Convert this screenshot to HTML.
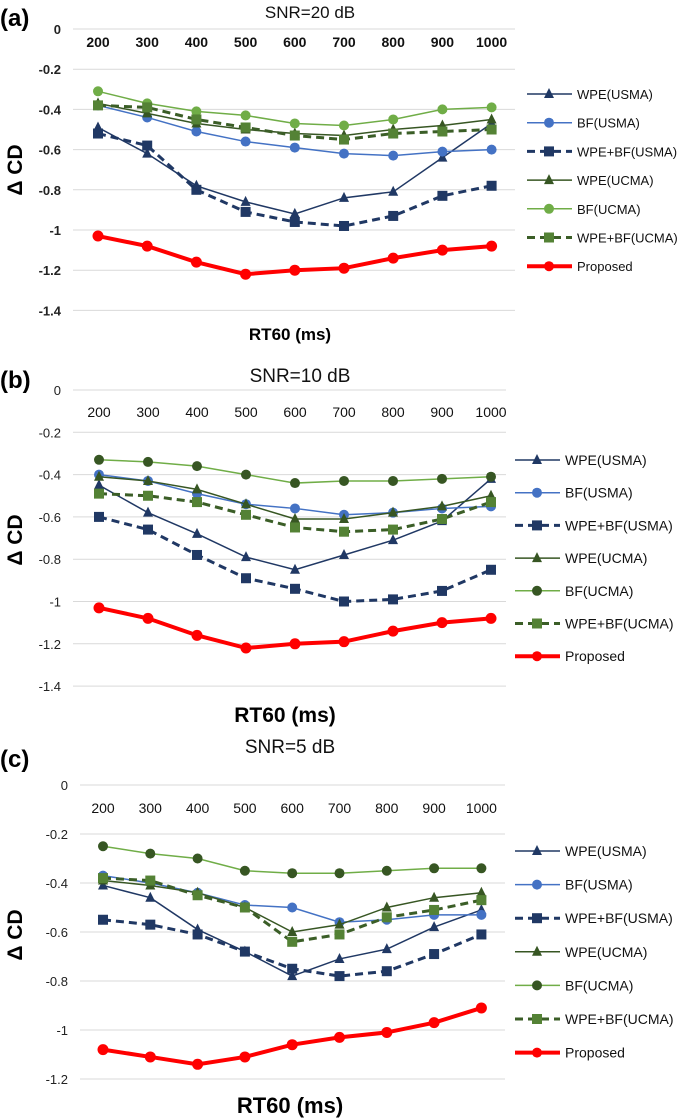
<!DOCTYPE html>
<html><head><meta charset="utf-8"><style>
html,body{margin:0;padding:0;background:#fff;width:685px;height:1119px;overflow:hidden}
svg{display:block;font-family:"Liberation Sans",sans-serif}
</style></head><body>
<svg id="fig" width="685" height="1119" viewBox="0 0 685 1119"></svg>
<script>
const categories=["200","300","400","500","600","700","800","900","1000"];
const seriesNames=["WPE(USMA)","BF(USMA)","WPE+BF(USMA)","WPE(UCMA)","BF(UCMA)","WPE+BF(UCMA)","Proposed"];
const aWPEusma=[-0.49,-0.62,-0.78,-0.86,-0.92,-0.84,-0.81,-0.64,-0.47];
const aBFusma=[-0.38,-0.44,-0.51,-0.56,-0.59,-0.62,-0.63,-0.61,-0.60];
const aWBusma=[-0.52,-0.58,-0.80,-0.91,-0.96,-0.98,-0.93,-0.83,-0.78];
const aWPEucma=[-0.37,-0.42,-0.47,-0.50,-0.52,-0.53,-0.50,-0.48,-0.45];
const aBFucma=[-0.31,-0.37,-0.41,-0.43,-0.47,-0.48,-0.45,-0.40,-0.39];
const aWBucma=[-0.38,-0.39,-0.45,-0.49,-0.53,-0.55,-0.52,-0.51,-0.50];
const aProp=[-1.03,-1.08,-1.16,-1.22,-1.20,-1.19,-1.14,-1.10,-1.08];
const bWPEusma=[-0.45,-0.58,-0.68,-0.79,-0.85,-0.78,-0.71,-0.62,-0.42];
const bBFusma=[-0.40,-0.43,-0.49,-0.54,-0.56,-0.59,-0.58,-0.56,-0.55];
const bWBusma=[-0.60,-0.66,-0.78,-0.89,-0.94,-1.00,-0.99,-0.95,-0.85];
const bWPEucma=[-0.41,-0.43,-0.47,-0.54,-0.61,-0.61,-0.58,-0.55,-0.50];
const bBFucma=[-0.33,-0.34,-0.36,-0.40,-0.44,-0.43,-0.43,-0.42,-0.41];
const bWBucma=[-0.49,-0.50,-0.53,-0.59,-0.65,-0.67,-0.66,-0.61,-0.53];
const bProp=[-1.03,-1.08,-1.16,-1.22,-1.20,-1.19,-1.14,-1.10,-1.08];
const cWPEusma=[-0.41,-0.46,-0.59,-0.68,-0.78,-0.71,-0.67,-0.58,-0.51];
const cBFusma=[-0.37,-0.40,-0.44,-0.49,-0.50,-0.56,-0.55,-0.53,-0.53];
const cWBusma=[-0.55,-0.57,-0.61,-0.68,-0.75,-0.78,-0.76,-0.69,-0.61];
const cWPEucma=[-0.39,-0.41,-0.44,-0.50,-0.60,-0.57,-0.50,-0.46,-0.44];
const cBFucma=[-0.25,-0.28,-0.30,-0.35,-0.36,-0.36,-0.35,-0.34,-0.34];
const cWBucma=[-0.38,-0.39,-0.45,-0.50,-0.64,-0.61,-0.54,-0.51,-0.47];
const cProp=[-1.08,-1.11,-1.14,-1.11,-1.06,-1.03,-1.01,-0.97,-0.91];
const ticksAB=["0","-0.2","-0.4","-0.6","-0.8","-1","-1.2","-1.4"];
const ticksC=["0","-0.2","-0.4","-0.6","-0.8","-1","-1.2"];

const NS="http://www.w3.org/2000/svg";
const svg=document.getElementById('fig');
function mk(tag,attrs,parent){const e=document.createElementNS(NS,tag);for(const k in attrs)e.setAttribute(k,attrs[k]);(parent||svg).appendChild(e);return e;}
function txt(s,attrs,parent){const e=mk('text',attrs,parent);e.textContent=s;return e;}

const styles=[
 {c:"#203864",w:1.5,d:null,m:"tri",mc:"#203864"},
 {c:"#4472c4",w:1.5,d:null,m:"circ",mc:"#4472c4"},
 {c:"#203864",w:3,d:"8,5",m:"sq",mc:"#203864"},
 {c:"#375623",w:1.5,d:null,m:"tri",mc:"#375623"},
 {c:"#70ad47",w:1.5,d:null,m:"circ",mc:"#70ad47"},
 {c:"#3b5e27",w:3,d:"8,5",m:"sq",mc:"#548235"},
 {c:"#ff0000",w:4,d:null,m:"circ",mc:"#ff0000"}
];
function marker(g,type,x,y,col,r){
  let e;
  if(type==="tri") e=mk('polygon',{points:`${x},${y-r-1} ${x-r},${y+r-1} ${x+r},${y+r-1}`,fill:col},g);
  else if(type==="circ") e=mk('circle',{cx:x,cy:y,r:r,fill:col},g);
  else e=mk('rect',{x:x-r,y:y-r,width:2*r,height:2*r,fill:col},g);
  return e;
}
const panels=[
 {id:"a",data:[aWPEusma,aBFusma,aWBusma,aWPEucma,aBFucma,aWBucma,aProp],ticks:ticksAB,y0:29,k:201,x0:98,dx:49.2,gx1:73,gx2:515,tly:47,tbold:true,tfs:14,title:"SNR=20 dB",tx:310,ty:18,tsz:17,lab:"(a)",laby:26,yly:170,xl:"RT60 (ms)",xlx:290,xly:340,xls:17,lx:527,ly0:94,ldy:28.7,lfs:13,bfUcma:"#70ad47",bfUcmaM:"#70ad47"},
 {id:"b",data:[bWPEusma,bBFusma,bWBusma,bWPEucma,bBFucma,bWBucma,bProp],ticks:ticksAB,y0:390,k:211.5,x0:99,dx:49,gx1:73,gx2:506,tly:417,tbold:false,tfs:14,title:"SNR=10 dB",tx:300,ty:382,tsz:19,lab:"(b)",laby:388,yly:540,xl:"RT60 (ms)",xlx:285,xly:722,xls:21,lx:515,ly0:460,ldy:32.7,lfs:14,bfUcma:"#70ad47",bfUcmaM:"#375623"},
 {id:"c",data:[cWPEusma,cBFusma,cWBusma,cWPEucma,cBFucma,cWBucma,cProp],ticks:ticksC,y0:785,k:245,x0:103,dx:47.3,gx1:80,gx2:505,tly:813,tbold:false,tfs:14,title:"SNR=5 dB",tx:290,ty:753,tsz:19,lab:"(c)",laby:767,yly:935,xl:"RT60 (ms)",xlx:290,xly:1113,xls:22,lx:515,ly0:851,ldy:33.6,lfs:14,bfUcma:"#70ad47",bfUcmaM:"#375623"}
];
panels.forEach(p=>{
  const g=mk('g',{});
  
  
  const yS=v=>p.y0-v*p.k;
  const xS=i=>p.x0+i*p.dx;
  p.ticks.forEach(t=>{
    const y=yS(parseFloat(t));
    const l=mk('line',{x1:p.gx1,x2:p.gx2,y1:y,y2:y,stroke:"#d9d9d9","stroke-width":1},g);
    
    
    const tl=txt(t,{x:p.gx1-12,y:y+5,"text-anchor":"end","font-size":13,"font-weight":p.tbold?"bold":"normal",fill:"#222"},g);
    
    
  });
  categories.forEach((c,i)=>{
    const tl=txt(c,{x:xS(i),y:p.tly,"text-anchor":"middle","font-size":p.tfs,"font-weight":p.tbold?"bold":"normal",fill:"#111"},g);
    
    
  });
  const tt=txt(p.title,{x:p.tx,y:p.ty,"text-anchor":"middle","font-size":p.tsz,fill:"#111"},g);
  
  
  const pl=txt(p.lab,{x:0,y:p.laby,"font-size":24,"font-weight":"bold",fill:"#000"},g);
  
  
  const yl=txt("Δ CD",{x:0,y:0,transform:`translate(22,${p.yly}) rotate(-90)`,"text-anchor":"middle","font-size":21,"font-weight":"bold",fill:"#000"},g);
  
  
  const xl=txt(p.xl,{x:p.xlx,y:p.xly,"text-anchor":"middle","font-size":p.xls,"font-weight":"bold",fill:"#000"},g);
  
  
  p.data.forEach((arr,si)=>{
    const st=Object.assign({},styles[si]);
    if(si===4){st.c=p.bfUcma;st.mc=p.bfUcmaM;}
    const sg=mk('g',{},g);
    
    
    const pts=arr.map((v,i)=>xS(i)+","+yS(v)).join(" ");
    const a={points:pts,fill:"none",stroke:st.c,"stroke-width":st.w};
    if(st.d)a["stroke-dasharray"]=st.d;
    const ln=mk('polyline',a,sg);
    
    
    arr.forEach((v,i)=>{
      const m=marker(sg,st.m,xS(i),yS(v),st.mc,si===6?5.5:5);
      
      
    });
    const ly=p.ly0+si*p.ldy;
    const lg=mk('g',{},g);
    
    
    const la={x1:p.lx,x2:p.lx+45,y1:ly,y2:ly,stroke:st.c,"stroke-width":st.w};
    if(st.d)la["stroke-dasharray"]=st.d;
    mk('line',la,lg);
    marker(lg,st.m,p.lx+22,ly,st.mc,5);
    txt(seriesNames[si],{x:p.lx+50,y:ly+5,"font-size":p.lfs,fill:"#111"},lg);
  });
});
</script>
</body></html>
